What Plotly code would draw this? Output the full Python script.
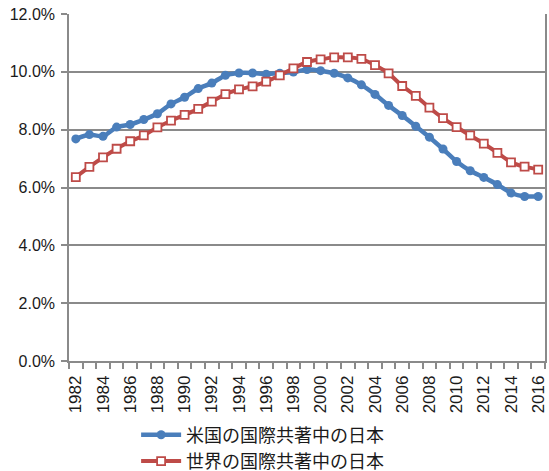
import plotly.graph_objects as go

# years and shares (% of Japan in international co-authorship)
years = list(range(1982, 2017))

us_share = [7.68, 7.83, 7.77, 8.09, 8.18, 8.35, 8.55, 8.89, 9.12, 9.42,
            9.61, 9.88, 9.96, 9.96, 9.92, 9.95, 9.99, 10.08, 10.04, 9.95,
            9.79, 9.55, 9.22, 8.84, 8.49, 8.12, 7.74, 7.33, 6.90, 6.58,
            6.35, 6.10, 5.81, 5.69, 5.69]

world_share = [6.36, 6.71, 7.04, 7.34, 7.60, 7.80, 8.08, 8.31, 8.51, 8.72,
               8.97, 9.23, 9.39, 9.50, 9.66, 9.88, 10.12, 10.34, 10.43, 10.50,
               10.50, 10.45, 10.23, 9.95, 9.51, 9.17, 8.76, 8.40, 8.09, 7.80,
               7.52, 7.20, 6.87, 6.72, 6.62]

series_names = ["米国の国際共著中の日本", "世界の国際共著中の日本"]

y_ticks = [0, 2, 4, 6, 8, 10, 12]
x_label_years = [y for y in years if y % 2 == 0]
boundaries = [y - 0.5 for y in years] + [years[-1] + 0.5]

grid = "#8a8a8a"
blue = "#4A7EBB"
red = "#BE4B48"

fig = go.Figure()

fig.add_trace(go.Scatter(
    x=years, y=us_share, name=series_names[0],
    mode="lines+markers",
    line=dict(color=blue, width=4.5, shape="spline", smoothing=0.5),
    marker=dict(symbol="circle", size=9, color=blue),
))

fig.add_trace(go.Scatter(
    x=years, y=world_share, name=series_names[1],
    mode="lines+markers",
    line=dict(color=red, width=4, shape="spline", smoothing=0.5),
    marker=dict(symbol="square", size=8, color="white",
                line=dict(color=red, width=1.8)),
))

fig.update_layout(
    width=549, height=471,
    margin=dict(l=69, r=4, t=14, b=110, autoexpand=False),
    paper_bgcolor="white",
    plot_bgcolor="white",
    font=dict(family="Liberation Sans, Arial, sans-serif", color="#1a1a1a", size=16),
    showlegend=True,
    legend=dict(
        x=0.141, y=-0.16, xanchor="left", yanchor="top",
        font=dict(family="Noto Sans CJK JP", size=18, color="#1a1a1a"),
        tracegroupgap=0, itemwidth=40,
        bgcolor="rgba(0,0,0,0)",
    ),
    xaxis=dict(
        range=[1981.5, 2016.5],
        tickvals=x_label_years,
        ticktext=[str(y) for y in x_label_years],
        tickangle=-90,
        ticks="", ticklen=0, ticklabelstandoff=6,
        tickfont=dict(size=17),
        showgrid=False, zeroline=False,
        showline=True, linecolor=grid, linewidth=1.5,
        minor=dict(tickvals=boundaries, ticks="outside", ticklen=6,
                   tickcolor=grid, tickwidth=1.5, showgrid=False),
    ),
    yaxis=dict(
        range=[0, 12],
        tickvals=y_ticks,
        ticktext=[f"{v:.1f}%" for v in y_ticks],
        ticks="outside", ticklen=6, tickcolor=grid, tickwidth=1.5,
        ticklabelstandoff=3,
        tickfont=dict(size=16),
        showgrid=True, gridcolor=grid, gridwidth=1.5,
        zeroline=False,
        showline=True, linecolor=grid, linewidth=1.5, mirror=True,
    ),
)

fig.write_html("out.html", config={"displayModeBar": False},
               post_script="document.body.style.margin='0px';")
